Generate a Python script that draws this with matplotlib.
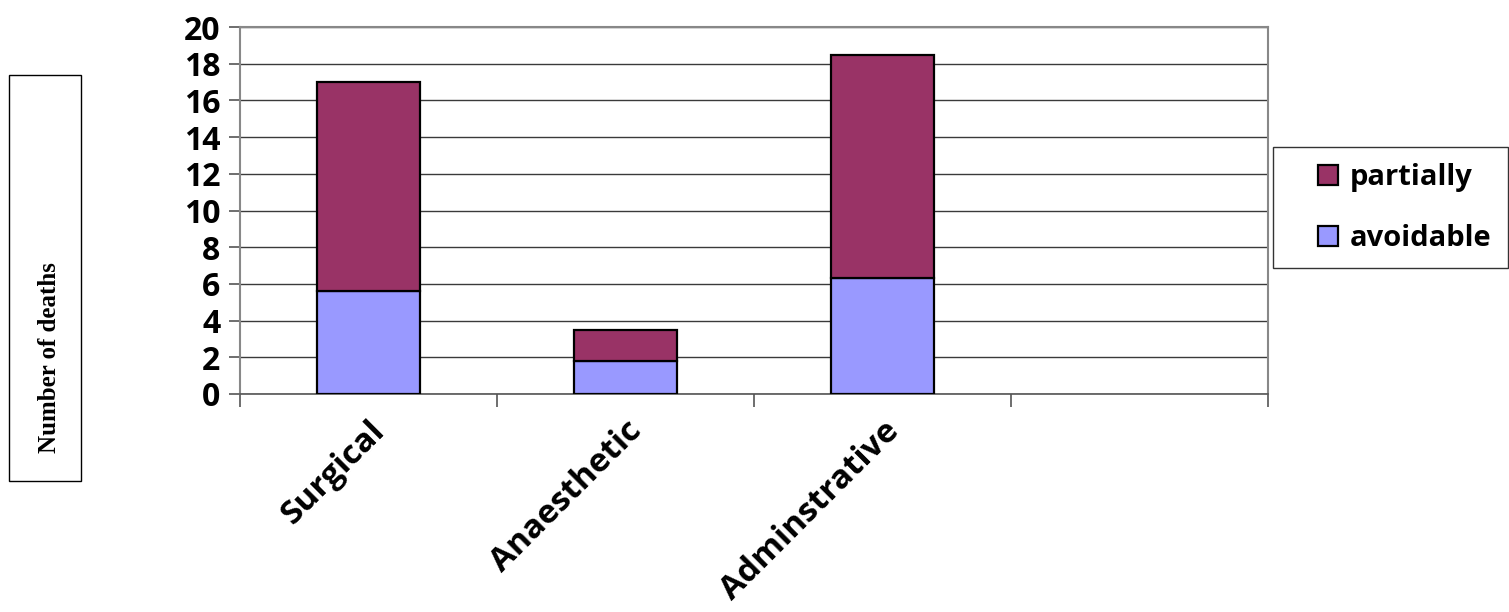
import matplotlib
matplotlib.use("Agg")
import matplotlib.pyplot as plt
import matplotlib.patches as mpatches
import numpy as np

# data (4th slot of the category axis is empty)
categories = ["Surgical", "Anaesthetic", "Adminstrative", ""]
bar_names = ["Surgical", "Anaesthetic", "Adminstrative"]
avoidable = [5.6, 1.8, 6.3]
partially = [11.4, 1.7, 12.2]
y_ticks = list(range(0, 21, 2))

COL_PART = "#993366"
COL_AVOID = "#9999FF"
FONT = "Open Sans"
W, H = 1509, 612

fig = plt.figure(figsize=(W / 100, H / 100), dpi=100)
ax = fig.add_axes([240 / W, 1 - 394 / H, (1268 - 240) / W, (394 - 27) / H])

x = np.arange(len(categories))
xb = np.arange(len(bar_names))
ax.bar(xb, avoidable, width=0.4, color=COL_AVOID, edgecolor="black", linewidth=1.6,
       label="avoidable", zorder=3)
ax.bar(xb, partially, width=0.4, bottom=avoidable, color=COL_PART, edgecolor="black",
       linewidth=1.6, label="partially", zorder=3)

ax.set_xlim(-0.5, len(categories) - 0.5)
ax.set_ylim(0, 20)
ax.set_yticks(y_ticks)
ax.yaxis.grid(True, color="#3a3a3a", linewidth=1.0, zorder=0)
ax.set_axisbelow(True)

# category boundary ticks on x axis, labels at the centres
ax.set_xticks(np.arange(-0.5, len(categories)), minor=False)
ax.set_xticklabels([])
ax.set_xticks(x, minor=True)
ax.set_xticklabels(categories, minor=True, rotation=45, ha="right",
                   rotation_mode="anchor", fontsize=24, fontweight="bold", family=FONT)
ax.tick_params(axis="x", which="major", length=9, color="#555555", width=1.2)
ax.tick_params(axis="x", which="minor", length=0, pad=15)
ax.tick_params(axis="y", length=8, color="#555555", width=1.2, pad=6)
for lab in ax.get_yticklabels():
    lab.set_fontsize(23)
    lab.set_fontweight("bold")
    lab.set_family(FONT)

for side in ["top", "right", "left"]:
    ax.spines[side].set_color("#888888")
    ax.spines[side].set_linewidth(1.5)
ax.spines["bottom"].set_color("#555555")
ax.spines["bottom"].set_linewidth(1.2)

# y label in its own box
fig.patches.append(mpatches.Rectangle((9 / W, 1 - 481 / H), 72 / W, 406 / H,
                                      transform=fig.transFigure, fill=False,
                                      edgecolor="black", linewidth=1.0))
fig.text(50 / W, 1 - 358 / H, "Number of deaths", rotation=90, ha="center",
         va="center", fontsize=18, fontweight="bold", family="Liberation Serif")

# legend frame drawn separately so the entries can sit with a wide left margin
fig.patches.append(mpatches.Rectangle((1273 / W, 1 - 268 / H), 235 / W, 121 / H,
                                      transform=fig.transFigure, fill=False,
                                      edgecolor="#333333", linewidth=1.0))
handles = [mpatches.Patch(facecolor=COL_PART, edgecolor="black", linewidth=1.6),
           mpatches.Patch(facecolor=COL_AVOID, edgecolor="black", linewidth=1.6)]
fig.legend(handles, ["partially", "avoidable"], loc="center left",
           bbox_to_anchor=(1318 / W, 1 - 208 / H),
           prop={"family": FONT, "weight": "bold", "size": 21},
           frameon=False, handlelength=0.7, handleheight=0.7, handletextpad=0.4,
           labelspacing=1.1, borderpad=0, borderaxespad=0)

fig.savefig("out.png", dpi=100)
